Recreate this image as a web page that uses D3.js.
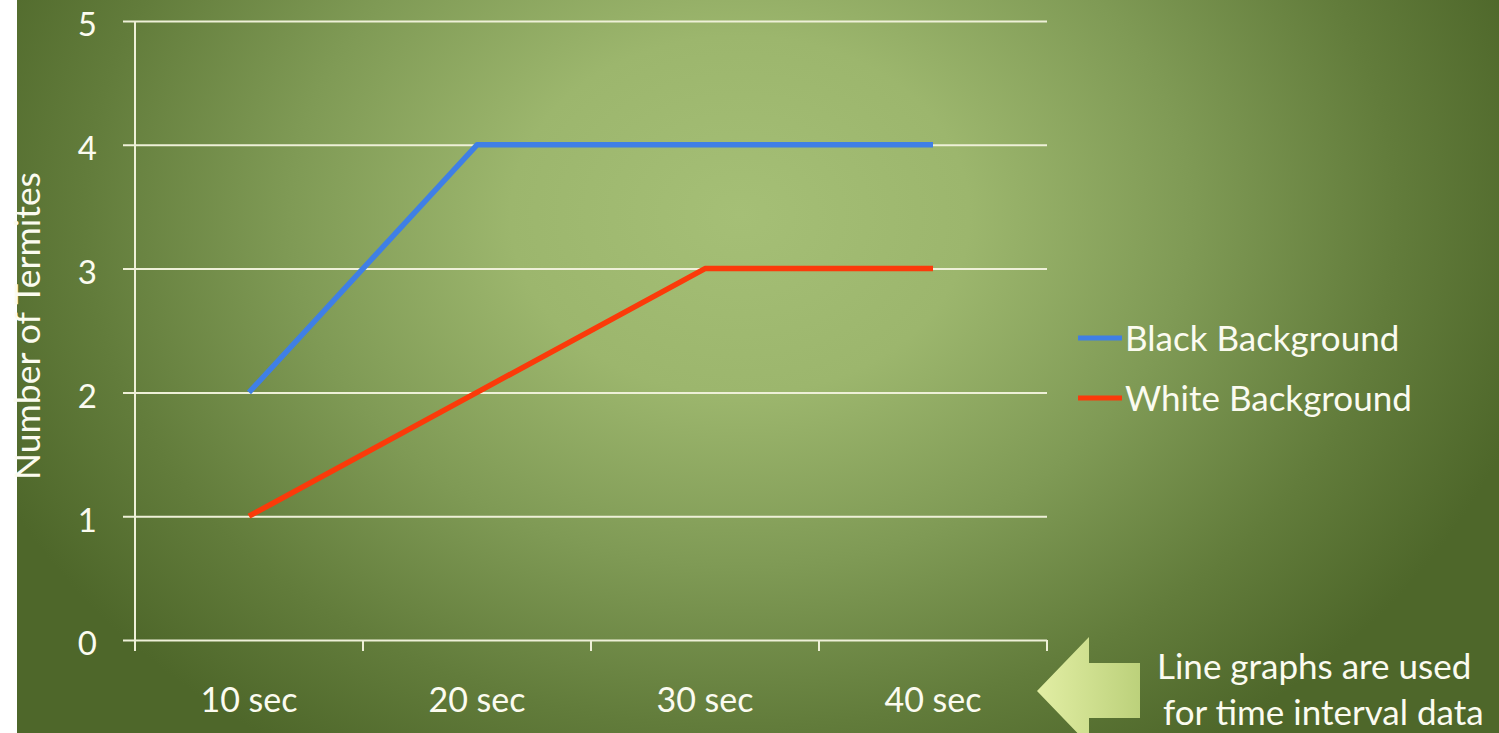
<!DOCTYPE html>
<html>
<head>
<meta charset="utf-8">
<script src="https://cdn.jsdelivr.net/npm/d3@7"></script>
<style>
  html, body { margin: 0; padding: 0; background: #ffffff; overflow: hidden; }
  svg { display: block; }
  text { font-family: Lato, "Open Sans", sans-serif; fill: #fbfbf0; }
</style>
</head>
<body>
<svg id="chart" width="1499" height="733"></svg>
<script>
// Time intervals and termite counts per background colour
const categories = ["10 sec", "20 sec", "30 sec", "40 sec"];
const blackBackground = [2, 4, 4, 4];
const whiteBackground = [1, 2, 3, 3];
const yTicks = [0, 1, 2, 3, 4, 5];
const seriesNames = ["Black Background", "White Background"];
const seriesColors = ["#3f7fe6", "#fb3a0a"];
const noteLines = ["Line graphs are used", "for time interval data"];

const svg = d3.select("#chart");
const W = 1499, H = 733;

// Backdrop: green radial glow
const defs = svg.append("defs");
const bg = defs.append("radialGradient")
  .attr("id", "bgGlow")
  .attr("gradientUnits", "userSpaceOnUse")
  .attr("cx", 740).attr("cy", 215).attr("r", 820)
  .attr("gradientTransform", "translate(740,215) scale(1,0.78) translate(-740,-215)");
[[0, "#a5bf76"], [0.28, "#9cb66d"], [0.55, "#7f9a55"], [0.8, "#627c3b"], [1, "#4e672a"]]
  .forEach(([o, c]) => bg.append("stop").attr("offset", o).attr("stop-color", c));

const arrowGrad = defs.append("linearGradient")
  .attr("id", "arrowFill").attr("x1", 0).attr("x2", 1).attr("y1", 0).attr("y2", 0);
arrowGrad.append("stop").attr("offset", 0).attr("stop-color", "#e2eea4");
arrowGrad.append("stop").attr("offset", 1).attr("stop-color", "#bcd17b");

svg.append("rect").attr("width", W).attr("height", H).attr("fill", "url(#bgGlow)");
svg.append("rect").attr("width", 17).attr("height", H).attr("fill", "#ffffff");

// Scales
const x = d3.scaleBand().domain(categories).range([135, 1047]).padding(0);
const y = d3.scaleLinear().domain([0, 5]).range([640, 21]);
const gridColor = "#eef0d8";

// Horizontal gridlines with outward ticks
const yAxis = svg.append("g").attr("transform", "translate(135,0)")
  .call(d3.axisLeft(y).tickValues(yTicks).tickSize(-912).tickPadding(0).tickFormat(""));
yAxis.select(".domain").remove();
yAxis.selectAll(".tick line")
  .attr("x1", -12).attr("stroke", gridColor).attr("stroke-width", 2);

yAxis.selectAll(".tick").append("text")
  .attr("x", -38).attr("dy", "0.45em")
  .attr("text-anchor", "end")
  .style("font-size", "33px")
  .text(d => d);

// Vertical axis line
svg.append("line")
  .attr("x1", 135).attr("x2", 135).attr("y1", y(5)).attr("y2", y(0) + 11)
  .attr("stroke", gridColor).attr("stroke-width", 2);

// Category axis
const xAxis = svg.append("g").attr("transform", `translate(0,${y(0)})`)
  .call(d3.axisBottom(x).tickSize(0).tickFormat(""));
xAxis.select(".domain").remove();
const bounds = [135].concat(categories.map(c => x(c) + x.bandwidth()));
svg.append("g").selectAll("line").data(bounds).join("line")
  .attr("x1", d => d).attr("x2", d => d)
  .attr("y1", y(0)).attr("y2", y(0) + 11)
  .attr("stroke", gridColor).attr("stroke-width", 2);
svg.append("g").selectAll("text").data(categories).join("text")
  .attr("x", d => x(d) + x.bandwidth() / 2)
  .attr("y", 712)
  .attr("text-anchor", "middle")
  .style("font-size", "34px")
  .text(d => d);

// Series lines
const line = d3.line()
  .x((d, i) => x(categories[i]) + x.bandwidth() / 2)
  .y(d => y(d));
[blackBackground, whiteBackground].forEach((vals, i) => {
  svg.append("path")
    .datum(vals)
    .attr("d", line)
    .attr("fill", "none")
    .attr("stroke", seriesColors[i])
    .attr("stroke-width", 5.5)
    .attr("stroke-linejoin", "round");
});

// Axis title
svg.append("text")
  .attr("transform", "translate(40,326) rotate(-90)")
  .attr("text-anchor", "middle")
  .style("font-size", "35.5px")
  .text("Number of Termites");

// Legend
const legend = svg.append("g");
seriesNames.forEach((name, i) => {
  const ly = 338 + i * 60;
  legend.append("line")
    .attr("x1", 1078).attr("x2", 1122).attr("y1", ly).attr("y2", ly)
    .attr("stroke", seriesColors[i]).attr("stroke-width", 5);
  legend.append("text")
    .attr("x", 1125).attr("y", ly + 13)
    .style("font-size", "35px")
    .text(name);
});

// Annotation arrow and note
const arrow = [[1037, 691], [1089, 637], [1089, 663], [1140, 663], [1140, 718], [1089, 718], [1089, 745]];
svg.append("path")
  .attr("d", d3.line()(arrow) + "Z")
  .attr("fill", "url(#arrowFill)");
noteLines.forEach((t, i) => {
  svg.append("text")
    .attr("x", i === 0 ? 1157 : 1163)
    .attr("y", 679 + i * 46)
    .style("font-size", "35px")
    .text(t);
});
</script>
</body>
</html>
